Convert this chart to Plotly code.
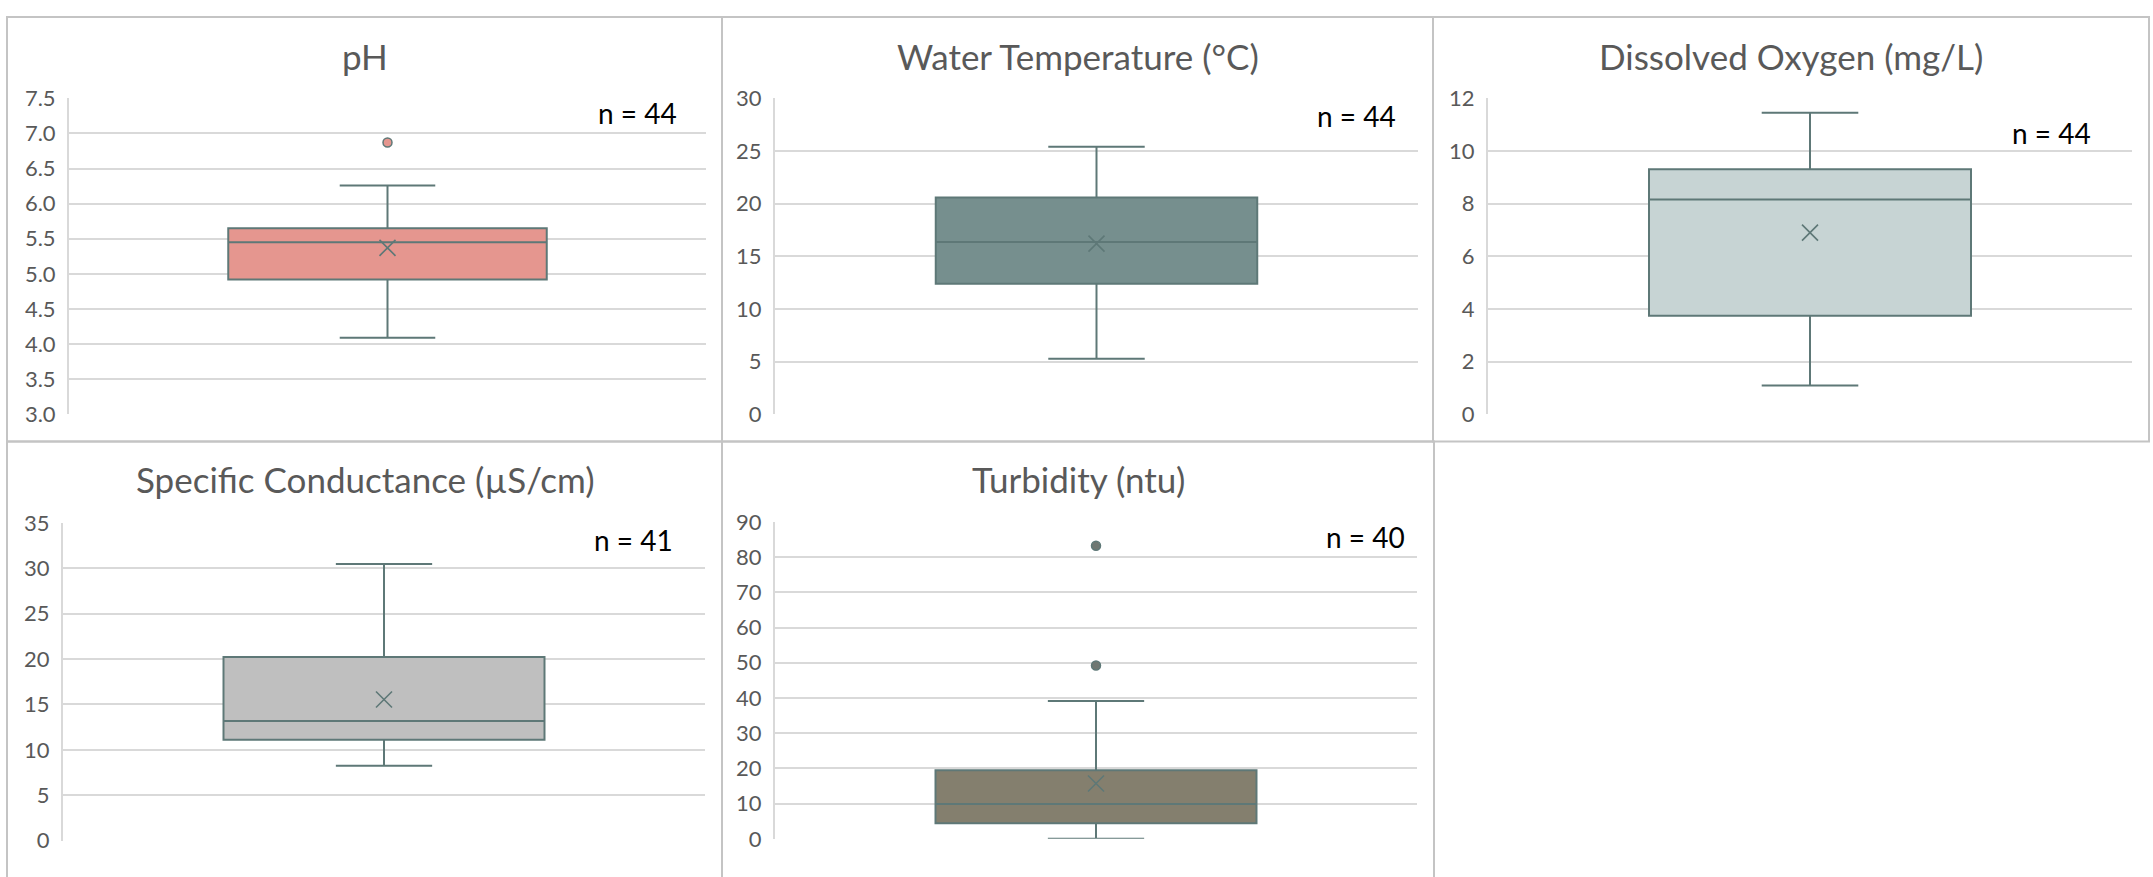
import plotly.graph_objects as go

W, H = 2153, 877

# ---- data ----
titles = ["pH", "Water Temperature (°C)", "Dissolved Oxygen (mg/L)",
          "Specific Conductance (µS/cm)", "Turbidity (ntu)"]
q1_vals = [4.92, 12.39, 3.74, 11.13, 4.4]
median_vals = [5.45, 16.35, 8.16, 13.17, 9.9]
q3_vals = [5.65, 20.58, 9.31, 20.24, 19.5]
lower_vals = [4.09, 5.28, 1.09, 8.26, 0.0]
upper_vals = [6.26, 25.4, 11.45, 30.48, 39.1]
mean_vals = [5.37, 16.2, 6.9, 15.55, 15.7]
outlier_vals = [[6.87], [], [], [], [83.2, 49.2]]
n_labels = ["n = 44", "n = 44", "n = 44", "n = 41", "n = 40"]
y_ranges = [[3, 7.5], [0, 30], [0, 12], [0, 35], [0, 90]]
y_dticks = [0.5, 5, 2, 5, 10]
y_formats = [".1f", "d", "d", "d", "d"]

# ---- styling ----
fills = ["#E5968F", "#768F8E", "#C7D4D4", "#BFBFBF", "#847F6E"]
outlier_fills = ["#E5968F", "#768F8E", "#C7D4D4", "#BFBFBF", "#6F7772"]
line_col = "#5E7877"
grid_col = "#D9D9D9"
border_col = "#C4C4C4"
tick_col = "#595959"
FONT = "Lato"

# plot areas in pixels: (x0, x1, ytop, ybottom)
plot_px = [(69, 706, 87, 413), (775, 1418, 87, 413), (1488, 2132, 87, 413),
           (63, 705, 525, 853), (775, 1417, 524, 851)]
panel_px = [(7, 722, 3, 441), (722, 1433, 3, 441), (1433, 2149, 3, 441),
            (7, 722, 441, 900), (722, 1434, 441, 900)]
title_px = [(365, 43), (1078, 43), (1791, 43), (365, 480), (1078, 480)]
n_px = [(637, 102), (1356, 105), (2051, 123), (633, 543), (1365, 540)]

fx = lambda px: px / W
fy = lambda py: 1 - py / H

fig = go.Figure()
layout = dict(width=W, height=H, margin=dict(l=0, r=0, t=0, b=0),
              paper_bgcolor="white", plot_bgcolor="white", showlegend=False,
              shapes=[], annotations=[])

for i in range(5):
    s = "" if i == 0 else str(i + 1)
    xa, ya = "x" + s, "y" + s
    fig.add_trace(go.Box(
        x=[0], q1=[q1_vals[i]], median=[median_vals[i]], q3=[q3_vals[i]],
        lowerfence=[lower_vals[i]], upperfence=[upper_vals[i]],
        width=0.5, whiskerwidth=0.3, fillcolor=fills[i],
        line=dict(color=line_col, width=2), boxpoints=False,
        xaxis=xa, yaxis=ya, hoverinfo="skip"))
    fig.add_trace(go.Scatter(
        x=[0], y=[mean_vals[i]], mode="markers", xaxis=xa, yaxis=ya,
        marker=dict(symbol="x-thin-open", size=16, color=line_col,
                    line=dict(color=line_col, width=1.6))))
    if outlier_vals[i]:
        fig.add_trace(go.Scatter(
            x=[0] * len(outlier_vals[i]), y=outlier_vals[i], mode="markers",
            xaxis=xa, yaxis=ya,
            marker=dict(symbol="circle", size=9, color=outlier_fills[i],
                        line=dict(color=line_col, width=1.5))))
    x0, x1, yt, yb = plot_px[i]
    layout["xaxis" + s] = dict(domain=[fx(x0), fx(x1)], range=[-0.5, 0.5],
                               showgrid=False, zeroline=False, showline=False,
                               showticklabels=False, ticks="", anchor=ya,
                               fixedrange=True)
    layout["yaxis" + s] = dict(domain=[fy(yb), fy(yt)], range=y_ranges[i],
                               dtick=y_dticks[i], tick0=0, tickformat=y_formats[i],
                               showgrid=True, gridcolor=grid_col, gridwidth=2,
                               zeroline=False, showline=True, linecolor=grid_col,
                               linewidth=2, ticks="", ticklabelstandoff=7,
                               tickfont=dict(family=FONT, size=22, color=tick_col),
                               anchor=xa, fixedrange=True)
    px0, px1, py0, py1 = panel_px[i]
    layout["shapes"].append(dict(type="rect", xref="paper", yref="paper",
                                 x0=fx(px0), x1=fx(px1), y0=fy(py1), y1=fy(py0),
                                 line=dict(color=border_col, width=2),
                                 fillcolor="rgba(0,0,0,0)", layer="below"))
    tx, ty = title_px[i]
    layout["annotations"].append(dict(text=titles[i], xref="paper", yref="paper",
                                      x=fx(tx), y=fy(ty), xanchor="center",
                                      yanchor="middle", showarrow=False,
                                      font=dict(family=FONT, size=35, color="#595959")))
    nx, ny = n_px[i]
    layout["annotations"].append(dict(text=n_labels[i], xref="paper", yref="paper",
                                      x=fx(nx), y=fy(ny), xanchor="center",
                                      yanchor="middle", showarrow=False,
                                      font=dict(family=FONT, size=28, color="#000000")))

fig.update_layout(**layout)
fig.write_html("out.html", config={"displayModeBar": False},
               post_script="document.body.style.margin='0';document.body.style.overflow='hidden';")
